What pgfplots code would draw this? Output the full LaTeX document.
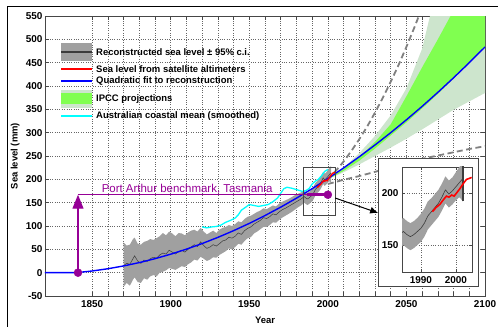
\documentclass[border=0pt]{standalone}
\usepackage{fontspec}
\setmainfont{Liberation Sans}
\usepackage{pgfplots}
\usepackage{pgfplotstable}
\pgfplotsset{compat=1.18}
\usetikzlibrary{arrows.meta}

\definecolor{recgray}{RGB}{160,160,160}
\definecolor{recline}{RGB}{60,60,60}
\definecolor{ipcclight}{RGB}{205,229,205}
\definecolor{ipccgreen}{RGB}{128,255,80}
\definecolor{dashgray}{RGB}{128,128,128}
\definecolor{purp}{RGB}{150,0,150}
\definecolor{axgray}{RGB}{70,70,70}
\definecolor{coastcyan}{RGB}{0,255,255}
\definecolor{fitblue}{RGB}{0,0,255}
\definecolor{satred}{RGB}{255,0,0}

% reconstruction: centre line
\pgfplotstableread{
year c
1870 15
1872 20
1874 18
1876 30
1877 36
1879 25
1881 20
1883 27
1885 24
1887 30
1889 33
1891 31
1893 38
1895 42
1897 40
1899 48
1901 44
1903 40
1905 45
1907 48
1909 44
1911 50
1913 55
1915 60
1917 56
1919 66
1921 58
1923 52
1925 55
1927 60
1929 57
1931 62
1933 68
1935 70
1937 76
1939 74
1941 78
1943 85
1945 82
1947 90
1949 95
1951 98
1953 104
1955 108
1957 112
1959 118
1961 116
1963 120
1965 126
1967 124
1969 130
1971 135
1973 138
1975 142
1977 146
1979 150
1981 154
1983 158
1985 163
1986 160
1987 158
1988 160
1989 163
1990 166
1991 171
1992 178
1993 182
1994 186
1995 190
1996 196
1997 203
1998 199
1999 202
2000 206
2001 210
2002 214
}\recon

% reconstruction: 95% band outline (upper edge forward, lower edge back)
\pgfplotstableread{
year val
1870 65
1872 58
1874 60
1876 72
1877 75
1879 62
1881 60
1883 66
1885 68
1887 72
1889 70
1891 74
1893 78
1895 85
1897 80
1899 88
1901 84
1903 78
1905 85
1907 84
1909 80
1911 86
1913 90
1915 92
1917 88
1919 96
1921 88
1923 82
1925 86
1927 90
1929 85
1931 92
1933 96
1935 98
1937 102
1939 100
1941 104
1943 110
1945 108
1947 115
1949 120
1951 122
1953 126
1955 130
1957 133
1959 138
1961 136
1963 140
1965 144
1967 142
1969 148
1971 152
1973 155
1975 158
1977 162
1979 166
1981 169
1983 172
1985 176
1986 173
1987 171
1988 173
1989 176
1990 180
1991 185
1992 192
1993 195
1994 199
1995 203
1996 209
1997 216
1998 212
1999 215
2000 220
2001 225
2002 228
2002 192
2001 196
2000 193
1999 189
1998 186
1997 190
1996 183
1995 177
1994 173
1993 169
1992 165
1991 158
1990 153
1989 150
1988 147
1987 145
1986 147
1985 150
1983 144
1981 140
1979 135
1977 130
1975 126
1973 122
1971 118
1969 113
1967 107
1965 108
1963 102
1961 98
1959 98
1957 93
1955 88
1953 84
1951 76
1949 74
1947 68
1945 60
1943 62
1941 55
1939 50
1937 52
1935 46
1933 42
1931 38
1929 32
1927 33
1925 28
1923 25
1921 30
1919 34
1917 26
1915 28
1913 22
1911 18
1909 12
1907 14
1905 10
1903 6
1901 8
1899 10
1897 5
1895 2
1893 0
1891 -8
1889 -5
1887 -8
1885 -15
1883 -12
1881 -22
1879 -20
1877 -10
1876 -15
1874 -28
1872 -22
1870 -30
}\reconband

\pgfplotstableread{
year val
1993.3 182
1994.3 186
1995.4 189
1996.3 193
1997.3 197
1998.0 196
1998.8 198
1999.5 197
2000.2 200
2001.1 204
2002.1 209
2003.0 213
2003.8 214
2004.5 215
}\sat

\pgfplotstableread{
year val
1820 0
1830 0
1840 0
1850 3.6
1860 8.4
1870 14.4
1880 21.6
1890 30
1900 39.6
1910 50.4
1920 62.4
1930 75.6
1940 90
1950 105.6
1960 122.4
1970 140.4
1980 159.6
1990 180
2000 201.6
2010 224.4
2020 248.4
2030 273.6
2040 300
2050 327.6
2060 356.4
2070 386.4
2080 417.6
2090 450
2100 483.6
}\quadfit

\pgfplotstableread{
year val
1920 98
1923 96
1926 98
1929 99
1932 102
1935 108
1938 112
1941 117
1943 124
1945 134
1948 141
1950 146
1953 144
1956 142
1959 144
1962 146
1965 152
1968 160
1970 170
1972 180
1974 183
1977 181
1980 178
1982 176
1984 174
1986 176
1988 180
1990 190
1992 196
1994 200
1996 208
1998 217
2000 221
}\coastal

% IPCC projection ranges (upper edge forward, lower edge back)
\pgfplotstableread{
year val
2000 200
2010 225
2020 256
2030 293
2040 337
2050 395
2060 480
2065 550
2070 620
2080 760
2090 880
2100 1000
2100 385
2090 367
2080 349
2070 328
2060 307
2050 287
2040 268
2030 250
2020 232
2010 215
}\ipccouter

\pgfplotstableread{
year val
2000 200
2010 222
2020 248
2030 280
2040 318
2050 378
2060 440
2070 500
2080 562
2090 626
2100 690
2100 483
2090 449
2080 416
2070 383
2060 352
2050 322
2040 294
2030 266
2020 240
2010 218
}\ipccinner

\pgfplotstableread{
year val
2000 200
2005 218
2010 238
2015 261
2020 286
2025 313
2030 343
2035 375
2040 409
2045 445
2050 484
2055 525
2060 568
2065 613
}\dashup

\pgfplotstableread{
year val
2000 190
2010 199
2020 207
2030 216
2040 226
2050 235
2060 244
2070 251
2080 258
2090 265
2100 271
}\dashlo

\begin{document}
\begin{tikzpicture}
\useasboundingbox (-45bp,-31bp) rectangle (453bp,296bp);
\draw[black, line width=1pt] (-38bp,-32bp) -- (-38bp,289bp) -- (454bp,289bp);

\begin{axis}[
  at={(0bp,0bp)}, anchor=south west,
  scale only axis, width=440bp, height=280bp,
  xmin=1820, xmax=2100, ymin=-50, ymax=550,
  xtick={1850,1900,...,2100}, minor x tick num=4,
  ytick={-50,0,...,550},
  grid=both,
  major grid style={dotted, black!60, line width=0.55pt},
  minor grid style={dotted, black!60, line width=0.55pt},
  tick align=inside, major tick length=4bp, minor tick length=4bp,
  axis line style={axgray, line width=0.6pt},
  every tick/.style={axgray, line width=0.5pt},
  ticklabel style={font=\fontsize{10}{11}\selectfont\bfseries},
  yticklabel style={xshift=1bp},
  xticklabel style={yshift=-1.5bp},
  /pgf/number format/assume math mode=true,
  /pgf/number format/1000 sep={},
  xlabel={Year}, ylabel={Sea level (mm)},
  label style={font=\fontsize{9.5}{10}\selectfont\bfseries},
  xlabel style={anchor=center, at={(axis description cs:0.5,-0.0857)}},
  ylabel style={anchor=center, at={(axis description cs:-0.068,0.5)}},
]
% IPCC
\addplot[fill=ipcclight, draw=none] table[x=year,y=val]{\ipccouter};
\addplot[fill=ipccgreen, draw=none] table[x=year,y=val]{\ipccinner};

% dashed extrapolations
\addplot[dashgray, line width=1.8pt, dash pattern=on 6bp off 3.5bp] table[x=year,y=val]{\dashup};
\addplot[dashgray, line width=1.8pt, dash pattern=on 6bp off 3.5bp] table[x=year,y=val]{\dashlo};

% reconstruction
\addplot[fill=recgray, draw=none] table[x=year,y=val]{\reconband};
\addplot[recline, line width=0.5pt] table[x=year,y=c]{\recon};

% coastal mean
\addplot[coastcyan, line width=1.3pt] table[x=year,y=val]{\coastal};
% quadratic fit
\addplot[fitblue, line width=1.4pt] table[x=year,y=val]{\quadfit};
% satellite
\addplot[satred, line width=1.4pt] table[x=year,y=val]{\sat};

% Port Arthur benchmark
\addplot[purp, line width=1.1pt] coordinates {(1841,167) (2000,167)};
\addplot[purp, line width=3pt] coordinates {(1987,167) (2000,167)};
\addplot[purp, line width=1.4pt, -{Triangle[length=14bp,width=11bp]}] coordinates {(1841,0) (1841,167)};
\addplot[purp, only marks, mark=*, mark size=4bp] coordinates {(1841,0) (2000,167)};
\node[purp, anchor=base west, inner sep=0pt, font=\fontsize{11.5}{12}\selectfont] at (axis cs:1856,171) {Port Arthur benchmark, Tasmania};

% zoom box and arrow
\draw[axgray, line width=0.6pt] (axis cs:1984.5,124) rectangle (axis cs:2004.6,225);
\draw[black, line width=1pt, -{Latex[length=8bp,width=7bp]}] (axis cs:2004.6,160) -- (axis cs:2032,128);
\end{axis}

% legend
\begin{scope}[every node/.style={anchor=west, inner sep=0pt, font=\fontsize{9.5}{11}\selectfont\bfseries}]
\fill[recgray] (16bp,235bp) rectangle (47bp,253bp);
\draw[recline, line width=1.2pt] (16bp,244bp) -- (47bp,244bp);
\node at (51bp,244bp) {Reconstructed sea level ± 95\% c.i.};
\draw[satred, line width=1.2pt] (16bp,227bp) -- (47bp,227bp);
\node at (51bp,227bp) {Sea level from satellite altimeters};
\draw[fitblue, line width=1.2pt] (16bp,215bp) -- (47bp,215bp);
\node at (51bp,215bp) {Quadratic fit to reconstruction};
\fill[ipcclight] (16bp,188bp) rectangle (47bp,206bp);
\fill[ipccgreen] (16bp,192bp) rectangle (47bp,203bp);
\node at (51bp,197bp) {IPCC projections};
\draw[coastcyan, line width=1.2pt] (16bp,180bp) -- (47bp,180bp);
\node at (51bp,180bp) {Australian coastal mean (smoothed)};
\end{scope}

\fill[white] (333bp,10bp) rectangle (433bp,138bp);
\draw[axgray, line width=0.6pt] (333bp,10bp) rectangle (433bp,138bp);

\begin{axis}[
  at={(357bp,24bp)}, anchor=south west,
  scale only axis, width=70bp, height=105bp,
  xmin=1984.6, xmax=2004.6, ymin=124, ymax=225,
  xtick={1990,2000}, ytick={150,200},
  grid=major,
  major grid style={dotted, black!60, line width=0.55pt},
  tick align=inside, major tick length=3bp,
  axis line style={axgray, line width=0.6pt},
  every tick/.style={axgray, line width=0.5pt},
  ticklabel style={font=\fontsize{10}{11}\selectfont\bfseries},
  xticklabel style={yshift=-1bp},
  /pgf/number format/assume math mode=true,
  /pgf/number format/1000 sep={},
]
\addplot[fill=recgray, draw=none] table[x=year,y=val]{\reconband};
\addplot[recline, line width=0.6pt] table[x=year,y=c]{\recon};
\addplot[recline, line width=1.2pt] coordinates {(2002,192) (2002,228)};
\addplot[satred, line width=1.6pt] table[x=year,y=val]{\sat};
\end{axis}
\end{tikzpicture}
\end{document}
